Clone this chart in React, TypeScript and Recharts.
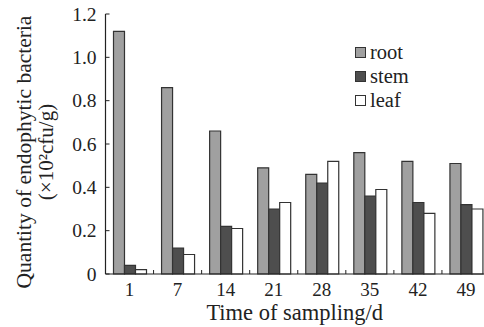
import React from 'react';
import { BarChart, Bar, XAxis, YAxis, Legend } from 'recharts';

const categories = ['1', '7', '14', '21', '28', '35', '42', '49'];
const rootValues = [1.12, 0.86, 0.66, 0.49, 0.46, 0.56, 0.52, 0.51];
const stemValues = [0.04, 0.12, 0.22, 0.30, 0.42, 0.36, 0.33, 0.32];
const leafValues = [0.02, 0.09, 0.21, 0.33, 0.52, 0.39, 0.28, 0.30];
const yTicks = [0, 0.2, 0.4, 0.6, 0.8, 1.0, 1.2];
const seriesNames = ['root', 'stem', 'leaf'];
const seriesColors = ['#a0a0a0', '#4e4e4e', '#ffffff'];

const data = categories.map((c, i) => ({
  day: c,
  root: rootValues[i],
  stem: stemValues[i],
  leaf: leafValues[i],
}));

const FONT = '"Liberation Serif", "Times New Roman", serif';
const INK = '#222';

const XTick = (props: any) => {
  const { x, y, payload, index } = props;
  const half = payload && typeof payload.offset === 'number' ? payload.offset : 24;
  return (
    <g>
      {index > 0 && (
        <line x1={x - half} x2={x - half} y1={y} y2={y - 4} stroke={INK} strokeWidth={1} />
      )}
      <text x={x} y={y + 22} textAnchor="middle" fontFamily={FONT} fontSize={19} fill={INK}>
        {payload.value}
      </text>
    </g>
  );
};

const YTick = (props: any) => {
  const { x, y, payload } = props;
  const v = payload.value;
  const label = v === 0 ? '0' : Number(v).toFixed(1);
  return (
    <g>
      <line x1={x} x2={x + 4} y1={y} y2={y} stroke={INK} strokeWidth={1} />
      <text x={x - 9} y={y} dy="0.34em" textAnchor="end" fontFamily={FONT} fontSize={19.5} fill={INK}>
        {label}
      </text>
    </g>
  );
};

const YTitle = (props: any) => {
  const vb = props.viewBox || {};
  const cy = vb.y + vb.height / 2 + 8;
  return (
    <g fontFamily={FONT} fill={INK}>
      <text x={31} y={cy} transform={`rotate(-90, 31, ${cy})`} textAnchor="middle" fontSize={21.5}>
        Quantity of endophytic bacteria
      </text>
      <text x={53} y={cy} transform={`rotate(-90, 53, ${cy})`} textAnchor="middle" fontSize={21}>
        (×10²cfu/g)
      </text>
    </g>
  );
};

const XTitle = (props: any) => {
  const vb = props.viewBox || {};
  const cx = vb.x + vb.width / 2 - 3;
  return (
    <text x={cx} y={vb.y + 46} textAnchor="middle" fontFamily={FONT} fontSize={22.5} fill={INK}>
      Time of sampling/d
    </text>
  );
};

const LegendContent = () => (
  <div style={{ fontFamily: FONT, color: INK, fontSize: 20.5 }}>
    {seriesNames.map((n, i) => (
      <div key={n} style={{ display: 'flex', alignItems: 'center', height: 24 }}>
        <span
          style={{
            display: 'inline-block',
            width: 9,
            height: 9,
            background: seriesColors[i],
            border: '1px solid #333',
            marginRight: 4,
          }}
        />
        <span style={{ lineHeight: '24px', fontFamily: FONT }}>{n}</span>
      </div>
    ))}
  </div>
);

export default function App() {
  return (
    <div style={{ position: 'absolute', left: 0, top: 0, width: 484, height: 327, overflow: 'hidden', background: '#fff' }}>
      <BarChart
        width={500}
        height={327}
        data={data}
        margin={{ top: 14, right: 10, bottom: 0, left: 0 }}
        barGap={0}
      >
        <XAxis
          dataKey="day"
          height={53}
          tickLine={false}
          tickSize={0}
          tickMargin={0}
          axisLine={{ stroke: INK, strokeWidth: 1.2 }}
          tick={<XTick />}
          interval={0}
          label={{ content: <XTitle /> } as any}
        />
        <YAxis
          width={105.5}
          domain={[0, 1.2]}
          ticks={yTicks}
          tickLine={false}
          tickSize={0}
          tickMargin={0}
          axisLine={{ stroke: INK, strokeWidth: 1.2 }}
          tick={<YTick />}
          interval={0}
          label={{ content: <YTitle /> } as any}
        />
        <Legend
          layout="vertical"
          align="center"
          verticalAlign="middle"
          content={<LegendContent />}
          wrapperStyle={{ left: 355, top: 40, width: 80, height: 75 }}
        />
        {seriesNames.map((n, i) => (
          <Bar
            key={n}
            dataKey={n}
            name={n}
            fill={seriesColors[i]}
            stroke="#333"
            strokeWidth={1.2}
            barSize={11}
            isAnimationActive={false}
          />
        ))}
      </BarChart>
    </div>
  );
}
